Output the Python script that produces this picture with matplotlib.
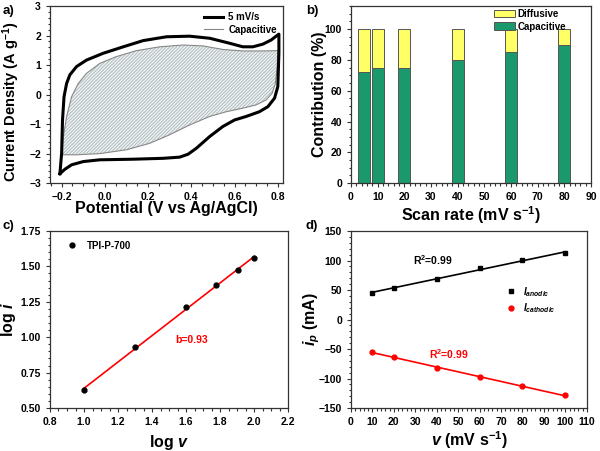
import matplotlib
matplotlib.use('Agg')
import matplotlib.pyplot as plt
import numpy as np

plt.rcParams['font.family'] = 'Liberation Sans'
plt.rcParams['font.weight'] = 'bold'
plt.rcParams['axes.labelweight'] = 'bold'
plt.rcParams['mathtext.fontset'] = 'custom'
plt.rcParams['mathtext.rm'] = 'Liberation Sans:bold'
plt.rcParams['mathtext.it'] = 'Liberation Sans:bold:italic'
plt.rcParams['mathtext.bf'] = 'Liberation Sans:bold'
plt.rcParams['hatch.linewidth'] = 0.7

# ---- a) CV at 5 mV/s and capacitive part
cv_up_v = [-0.208, -0.2, -0.196, -0.189, -0.177, -0.162, -0.131, -0.085, -0.008, 0.085, 0.177,
           0.285, 0.392, 0.485, 0.577, 0.638, 0.685, 0.731, 0.769, 0.805]
cv_up_i = [-2.68, -1.98, -0.86, -0.07, 0.38, 0.67, 0.95, 1.17, 1.40, 1.62, 1.83,
           1.96, 1.98, 1.91, 1.74, 1.62, 1.62, 1.71, 1.85, 2.05]
cv_dn_v = [0.805, 0.8, 0.785, 0.754, 0.715, 0.654, 0.6, 0.546, 0.485, 0.423, 0.385, 0.346,
           0.269, 0.131, -0.023, -0.1, -0.154, -0.185, -0.208]
cv_dn_i = [1.40, 0.27, -0.12, -0.41, -0.58, -0.74, -0.86, -1.08, -1.42, -1.82, -2.02, -2.12,
           -2.16, -2.19, -2.21, -2.27, -2.38, -2.53, -2.68]

cap_up_v = [-0.2, -0.192, -0.177, -0.154, -0.123, -0.085, -0.023, 0.054, 0.146, 0.254, 0.362,
            0.454, 0.546, 0.638, 0.731, 0.8]
cap_up_i = [-2.0, -1.42, -0.74, -0.07, 0.38, 0.72, 1.06, 1.29, 1.49, 1.62, 1.68,
            1.65, 1.53, 1.48, 1.48, 1.49]
cap_dn_v = [0.797, 0.789, 0.774, 0.746, 0.7, 0.638, 0.562, 0.485, 0.392, 0.3, 0.208, 0.1,
            -0.023, -0.131, -0.2]
cap_dn_i = [0.95, 0.38, 0.05, -0.18, -0.35, -0.46, -0.58, -0.74, -1.03, -1.36, -1.65, -1.87,
            -2.0, -2.04, -2.04]

# ---- b) capacitive / diffusive contribution
scan_rates = [5, 10, 20, 40, 60, 80]
capacitive_pct = [72, 75, 75, 80, 85, 90]

# ---- c) log i vs log v
log_v = [1.0, 1.301, 1.602, 1.778, 1.903, 2.0]
log_i = [0.625, 0.93, 1.214, 1.369, 1.475, 1.557]

# ---- d) peak currents
rate_d = [10, 20, 40, 60, 80, 100]
i_anodic = [44.6, 54, 68.8, 86.9, 101, 112.2]
i_cathodic = [-54.7, -63.7, -82.9, -97.6, -112.8, -128.6]

SPINE = '#333333'
LABEL_FS = 11.5
TICK_FS = 7.5


def style(ax):
    for s in ax.spines.values():
        s.set_color(SPINE)
        s.set_linewidth(0.9)
    ax.tick_params(which='both', direction='out', top=False, right=False,
                   labelsize=TICK_FS, color=SPINE, width=0.8)
    ax.tick_params(which='major', length=3)
    ax.tick_params(which='minor', length=1.8)
    ax.minorticks_on()


fig = plt.figure(figsize=(6, 4.51), dpi=100)
ax_a = fig.add_axes([0.0833, 0.594, 0.388, 0.3925])
ax_b = fig.add_axes([0.585, 0.594, 0.40, 0.3925])
ax_c = fig.add_axes([0.0833, 0.0953, 0.397, 0.3925])
ax_d = fig.add_axes([0.585, 0.0953, 0.393, 0.3925])

# a)
cap_v = cap_up_v + cap_dn_v
cap_i = cap_up_i + cap_dn_i
ax_a.fill(cap_v, cap_i, facecolor='#f0f3f3', edgecolor='#aebbbe', hatch='//////////', lw=0)
ax_a.plot(cap_v + cap_v[:1], cap_i + cap_i[:1], color='#888888', lw=0.8, label='Capacitive')
ax_a.plot(cv_up_v + cv_dn_v, cv_up_i + cv_dn_i, color='black', lw=2.2, label='5 mV/s',
          solid_joinstyle='round')
ax_a.set_xlim(-0.254, 0.823)
ax_a.set_ylim(-3, 3)
ax_a.set_xticks([-0.2, 0.0, 0.2, 0.4, 0.6, 0.8])
ax_a.set_yticks([-3, -2, -1, 0, 1, 2, 3])
style(ax_a)
h, l = ax_a.get_legend_handles_labels()
ax_a.legend(h[::-1], l[::-1], loc='upper right', frameon=False, fontsize=7,
            handlelength=2.0, handletextpad=0.5, borderaxespad=0.2, labelspacing=0.3)
ax_a.set_xlabel('Potential (V vs Ag/AgCl)', fontsize=LABEL_FS)
ax_a.set_ylabel('Current Density (A g$^{-1}$)', fontsize=10.5)
ax_a.xaxis.set_label_coords(0.5, -0.10)
ax_a.yaxis.set_label_coords(-0.12, 0.46)

# b)
diff_pct = [100 - c for c in capacitive_pct]
ax_b.bar(scan_rates, capacitive_pct, width=4.4, color='#1a9a6c', edgecolor='#555555',
         lw=0.7, label='Capacitive')
ax_b.bar(scan_rates, diff_pct, width=4.4, bottom=capacitive_pct, color='#ffff66',
         edgecolor='#555555', lw=0.7, label='Diffusive')
ax_b.set_xlim(0, 90)
ax_b.set_ylim(0, 115)
ax_b.set_xticks(range(0, 91, 10))
ax_b.set_yticks(range(0, 101, 20))
style(ax_b)
h, l = ax_b.get_legend_handles_labels()
ax_b.legend(h[::-1], l[::-1], loc='upper left', frameon=False, fontsize=7,
            handlelength=2.1, handleheight=0.8, handletextpad=0.3, borderaxespad=0.0,
            labelspacing=0.25, bbox_to_anchor=(0.58, 1.005))
ax_b.set_xlabel('Scan rate (mV s$^{-1}$)', fontsize=LABEL_FS)
ax_b.set_ylabel('Contribution (%)', fontsize=LABEL_FS)
ax_b.xaxis.set_label_coords(0.5, -0.12)
ax_b.yaxis.set_label_coords(-0.10, 0.5)

# c)
slope, icpt = np.polyfit(log_v, log_i, 1)
fit_x = np.array([log_v[0], log_v[-1]])
ax_c.plot(fit_x, slope * fit_x + icpt, color='red', lw=1.2)
ax_c.plot(log_v, log_i, 'o', color='black', ms=3.5, label='TPI-P-700')
ax_c.set_xlim(0.8, 2.2)
ax_c.set_ylim(0.5, 1.75)
ax_c.set_xticks(np.arange(0.8, 2.21, 0.2))
ax_c.set_yticks(np.arange(0.5, 1.76, 0.25))
ax_c.yaxis.set_major_formatter(matplotlib.ticker.FormatStrFormatter('%.2f'))
ax_c.xaxis.set_major_formatter(matplotlib.ticker.FormatStrFormatter('%.1f'))
style(ax_c)
ax_c.legend(loc='upper left', frameon=False, fontsize=7, handlelength=1.5,
            borderaxespad=0.6, bbox_to_anchor=(0.02, 1.0))
ax_c.text(1.535, 0.98, f'b={slope:.2f}', color='red', fontsize=7.5, va='center')
ax_c.set_xlabel('log $\\it{v}$', fontsize=LABEL_FS)
ax_c.set_ylabel('log $\\it{i}$', fontsize=LABEL_FS)
ax_c.xaxis.set_label_coords(0.5, -0.14)
ax_c.yaxis.set_label_coords(-0.134, 0.5)

# d)
for y, col, mk, lab in [(i_anodic, 'black', 's', '$\\it{I}_{anodic}$'),
                        (i_cathodic, 'red', 'o', '$\\it{I}_{cathodic}$')]:
    k, b0 = np.polyfit(rate_d, y, 1)
    fx = np.array([rate_d[0], rate_d[-1]])
    ax_d.plot(fx, k * fx + b0, color=col, lw=1.2)
    ax_d.plot(rate_d, y, mk, color=col, ms=3.5, label=lab)
ax_d.set_xlim(0, 110)
ax_d.set_ylim(-150, 150)
ax_d.set_xticks(range(0, 111, 10))
ax_d.set_yticks(range(-150, 151, 50))
style(ax_d)
ax_d.legend(loc='center left', bbox_to_anchor=(0.62, 0.61), frameon=False, fontsize=7,
            handlelength=1.0, labelspacing=0.3)
ax_d.text(28.8, 101, 'R$^2$=0.99', color='black', fontsize=7.5, va='center')
ax_d.text(36.2, -58, 'R$^2$=0.99', color='red', fontsize=7.5, va='center')
ax_d.set_xlabel('$\\it{v}$ (mV s$^{-1}$)', fontsize=LABEL_FS)
ax_d.set_ylabel('$\\it{i}_{p}$ (mA)', fontsize=LABEL_FS)
ax_d.xaxis.set_label_coords(0.5, -0.12)
ax_d.yaxis.set_label_coords(-0.123, 0.5)

for lab, x, y in [('a)', 0.004, 0.988), ('b)', 0.51, 0.988), ('c)', 0.004, 0.512),
                  ('d)', 0.51, 0.512)]:
    fig.text(x, y, lab, fontsize=9.5, va='top')

fig.savefig('out.png', dpi=100)
